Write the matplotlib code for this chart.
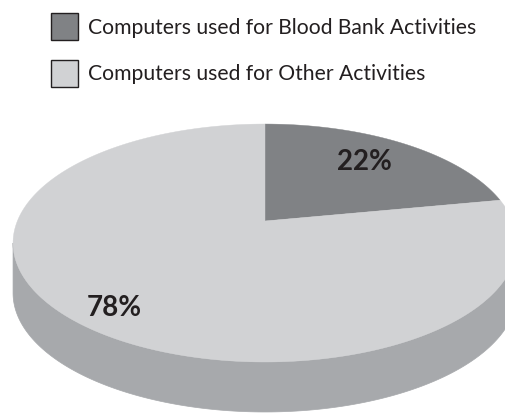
import numpy as np
import matplotlib
matplotlib.use("Agg")
import matplotlib.pyplot as plt
from matplotlib.patches import Rectangle

# ---- data ----
labels = ["Computers used for Blood Bank Activities",
          "Computers used for Other Activities"]
values = [22, 78]
pct_labels = ["22%", "78%"]
top_colors = ["#808285", "#d1d2d4"]
side_colors = ["#5f6063", "#a7a9ac"]

W, H = 505, 414
fig = plt.figure(figsize=(W / 100, H / 100), dpi=100)
ax = fig.add_axes([0, 0, 1, 1])
ax.set_xlim(0, W)
ax.set_ylim(H, 0)
ax.axis("off")

# perspective projection of the pie plane
cx, cy = 265.0, 222.0
A, B, k = 247.6, 114.9, 0.185
depth = 50.0


def proj(theta, dy=0.0):
    X = np.sin(theta)
    Y = np.cos(theta)
    d = 1 + k * Y
    return cx + A * X / d, cy - B * Y / d + dy


vals = np.array(values, dtype=float)
bounds = np.concatenate([[0], np.cumsum(vals) / vals.sum() * 2 * np.pi])

# visible front arc of the side
th_r = np.arccos(-k)
th_l = 2 * np.pi - th_r

# sides
for i in range(len(vals)):
    a0, a1 = max(bounds[i], th_r), min(bounds[i + 1], th_l)
    if a1 <= a0:
        continue
    t = np.linspace(a0, a1, 200)
    xt, yt = proj(t)
    xb, yb = proj(t[::-1], depth)
    ax.fill(np.concatenate([xt, xb]), np.concatenate([yt, yb]),
            color=side_colors[i], lw=0.5, ec=side_colors[i])

# top faces
for i in range(len(vals)):
    t = np.linspace(bounds[i], bounds[i + 1], 300)
    xt, yt = proj(t)
    ax.fill(np.concatenate([[cx], xt]), np.concatenate([[cy], yt]),
            color=top_colors[i], lw=0.3, ec=top_colors[i])

# percentage labels
label_pos = [(364, 162), (114, 308)]
for (x, y), s in zip(label_pos, pct_labels):
    ax.text(x, y, s, ha="center", va="center", fontsize=20,
            fontweight="bold", color="#231f20", family="Lato")

# legend
for j, (lab, col) in enumerate(zip(labels, top_colors)):
    y0 = 14 + j * 47
    ax.add_patch(Rectangle((51, y0), 27, 27, facecolor=col,
                           edgecolor="#231f20", lw=1.0))
    ax.text(88, y0 + 13.5, lab, ha="left", va="center", fontsize=15.2,
            color="#231f20", family="Lato")

fig.savefig("out.png", dpi=100)
